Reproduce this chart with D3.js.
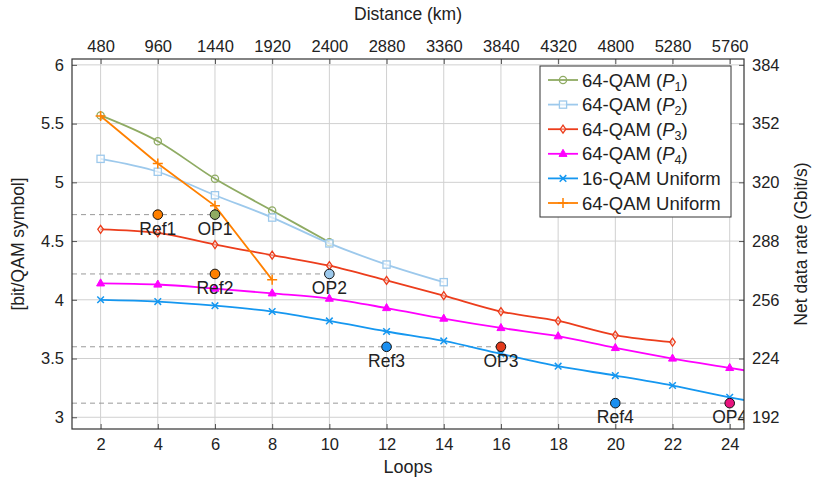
<!DOCTYPE html>
<html>
<head>
<meta charset="utf-8">
<script src="https://cdn.jsdelivr.net/npm/d3@7"></script>
<style>
  body { margin: 0; background: #fff; }
  text { font-family: "Liberation Sans", "DejaVu Sans", sans-serif; fill: #222; }
</style>
</head>
<body>
<svg id="chart" width="814" height="479"></svg>
<script>
// Data.
var loopsP1 = [2, 4, 6, 8, 10];
var p1 = [5.57, 5.35, 5.03, 4.76, 4.49];
var loopsP2 = [2, 4, 6, 8, 10, 12, 14];
var p2 = [5.20, 5.09, 4.89, 4.70, 4.48, 4.30, 4.15];
var loopsP3 = [2, 4, 6, 8, 10, 12, 14, 16, 18, 20, 22];
var p3 = [4.60, 4.57, 4.47, 4.38, 4.29, 4.165, 4.035, 3.90, 3.82, 3.70, 3.64];
var loopsLong = [2, 4, 6, 8, 10, 12, 14, 16, 18, 20, 22, 24, 26];
var p4 = [4.14, 4.13, 4.095, 4.055, 4.01, 3.93, 3.84, 3.76, 3.69, 3.59, 3.50, 3.42, 3.34];
var u16 = [4.00, 3.985, 3.95, 3.90, 3.82, 3.73, 3.65, 3.54, 3.435, 3.355, 3.27, 3.17, 3.08];
var loopsU64 = [2, 4, 6, 8];
var u64 = [5.565, 5.16, 4.80, 4.17];

// Operating points.
var opNames = ["Ref1", "OP1", "Ref2", "OP2", "Ref3", "OP3", "Ref4", "OP4"];
var opLoops = [4, 6, 6, 10, 12, 16, 20, 24];
var opValues = [4.725, 4.725, 4.22, 4.22, 3.60, 3.60, 3.12, 3.12];

// Ticks.
var loopTicks = [2, 4, 6, 8, 10, 12, 14, 16, 18, 20, 22, 24];
var kmPerLoop = 240;
var yTicks = [3, 3.5, 4, 4.5, 5, 5.5, 6];
var rateTicks = [192, 224, 256, 288, 320, 352, 384];
var bitsToGbit = 64;

// Styles.
var C_P1 = "#8fab63", C_P2 = "#9dc9ec", C_P3 = "#ec3d1c", C_P4 = "#ff00ff",
    C_U16 = "#1597f0", C_U64 = "#ff8000";
var opFill = [C_U64, C_P1, C_U64, C_P2, "#1a8ff0", "#e23a1c", "#1a8ff0", "#e8147e"];

var series = [
  {name: "64-QAM (P1)", sub: "1", x: loopsP1, y: p1, color: C_P1, mark: "circle", smooth: true},
  {name: "64-QAM (P2)", sub: "2", x: loopsP2, y: p2, color: C_P2, mark: "square", smooth: true},
  {name: "64-QAM (P3)", sub: "3", x: loopsP3, y: p3, color: C_P3, mark: "diamond", smooth: true},
  {name: "64-QAM (P4)", sub: "4", x: loopsLong, y: p4, color: C_P4, mark: "triangle", smooth: true},
  {name: "16-QAM Uniform", x: loopsLong, y: u16, color: C_U16, mark: "x", smooth: true},
  {name: "64-QAM Uniform", x: loopsU64, y: u64, color: C_U64, mark: "plus", smooth: false}
];

var W = 814, H = 479;
var margin = {left: 72, right: 70, top: 59, bottom: 50};

var svg = d3.select("#chart");

var x = d3.scaleLinear().domain([1, 24.5]).range([margin.left, W - margin.right]);
var y = d3.scaleLinear().domain([2.9, 6.05]).range([H - margin.bottom, margin.top]);
var xTop = d3.scaleLinear().domain([1 * kmPerLoop, 24.5 * kmPerLoop]).range(x.range());
var yRight = d3.scaleLinear().domain([2.9 * bitsToGbit, 6.05 * bitsToGbit]).range(y.range());

var x0 = x.range()[0], x1 = x.range()[1], y0 = y.range()[0], y1 = y.range()[1];

svg.append("defs").append("clipPath").attr("id", "clip")
  .append("rect").attr("x", x0).attr("y", y1).attr("width", x1 - x0).attr("height", y0 - y1);

// Grid.
var grid = svg.append("g");
grid.selectAll("line.v").data(loopTicks).enter().append("line")
  .attr("x1", function(d){ return x(d); }).attr("x2", function(d){ return x(d); })
  .attr("y1", y0).attr("y2", y1)
  .attr("stroke", "#d0d0d0").attr("stroke-width", 1);
grid.selectAll("line.h").data(yTicks).enter().append("line")
  .attr("x1", x0).attr("x2", x1)
  .attr("y1", function(d){ return y(d); }).attr("y2", function(d){ return y(d); })
  .attr("stroke", "#d0d0d0").attr("stroke-width", 1);

// Axes.
function styleAxis(g) {
  g.select(".domain").remove();
  g.selectAll(".tick line").attr("stroke", "#555");
  g.selectAll(".tick text").attr("font-size", 16.5).style("fill", "#222");
}
svg.append("g").attr("transform", "translate(0," + y0 + ")")
  .call(d3.axisBottom(x).tickValues(loopTicks).tickSizeInner(-5).tickSizeOuter(0).tickPadding(9))
  .call(styleAxis);
svg.append("g").attr("transform", "translate(0," + y1 + ")")
  .call(d3.axisTop(xTop).tickValues(loopTicks.map(function(d){ return d * kmPerLoop; }))
        .tickSizeInner(-5).tickSizeOuter(0).tickPadding(7).tickFormat(d3.format("d")))
  .call(styleAxis);
svg.append("g").attr("transform", "translate(" + x0 + ",0)")
  .call(d3.axisLeft(y).tickValues(yTicks).tickSizeInner(-5).tickSizeOuter(0).tickPadding(8)
        .tickFormat(function(d){ return String(d); }))
  .call(styleAxis);
svg.append("g").attr("transform", "translate(" + x1 + ",0)")
  .call(d3.axisRight(yRight).tickValues(rateTicks).tickSizeInner(-5).tickSizeOuter(0).tickPadding(8))
  .call(styleAxis);

// Reference dashed levels and data.
var plot = svg.append("g").attr("clip-path", "url(#clip)");

var opIdx = opNames.map(function(d, i){ return i; });
var opOnly = opIdx.filter(function(i){ return opNames[i].indexOf("OP") === 0; });
plot.selectAll("line.lvl").data(opOnly).enter().append("line")
  .attr("x1", x0).attr("x2", function(i){ return x(opLoops[i]); })
  .attr("y1", function(i){ return y(opValues[i]); }).attr("y2", function(i){ return y(opValues[i]); })
  .attr("stroke", "#999").attr("stroke-width", 1).attr("stroke-dasharray", "5,4");

function drawMark(g, type, cx, cy, color) {
  if (type === "circle") {
    g.append("circle").attr("cx", cx).attr("cy", cy).attr("r", 3.6)
      .attr("fill", "#fff").attr("fill-opacity", 0).attr("stroke", color).attr("stroke-width", 1.3);
  } else if (type === "square") {
    g.append("rect").attr("x", cx - 3.6).attr("y", cy - 3.6).attr("width", 7.2).attr("height", 7.2)
      .attr("fill", "#fff").attr("fill-opacity", 0.6).attr("stroke", color).attr("stroke-width", 1.3);
  } else if (type === "diamond") {
    g.append("path").attr("d", "M" + cx + "," + (cy - 4) + "L" + (cx + 2.8) + "," + cy +
        "L" + cx + "," + (cy + 4) + "L" + (cx - 2.8) + "," + cy + "Z")
      .attr("fill", "#fff").attr("fill-opacity", 0.4).attr("stroke", color).attr("stroke-width", 1.3);
  } else if (type === "triangle") {
    g.append("path").attr("d", "M" + cx + "," + (cy - 4.5) + "L" + (cx + 4) + "," + (cy + 2.6) +
        "L" + (cx - 4) + "," + (cy + 2.6) + "Z")
      .attr("fill", color).attr("stroke", color).attr("stroke-width", 1);
  } else if (type === "x") {
    g.append("path").attr("d", "M" + (cx - 3.3) + "," + (cy - 3.3) + "L" + (cx + 3.3) + "," + (cy + 3.3) +
        "M" + (cx - 3.3) + "," + (cy + 3.3) + "L" + (cx + 3.3) + "," + (cy - 3.3))
      .attr("stroke", color).attr("stroke-width", 1.5).attr("fill", "none");
  } else if (type === "plus") {
    g.append("path").attr("d", "M" + (cx - 5) + "," + cy + "L" + (cx + 5) + "," + cy +
        "M" + cx + "," + (cy - 5) + "L" + cx + "," + (cy + 5))
      .attr("stroke", color).attr("stroke-width", 1.5).attr("fill", "none");
  }
}

series.forEach(function(s) {
  var pts = s.x.map(function(d, i){ return [x(d), y(s.y[i])]; });
  var line = d3.line().curve(s.smooth ? d3.curveMonotoneX : d3.curveLinear);
  plot.append("path").attr("d", line(pts))
    .attr("fill", "none").attr("stroke", s.color).attr("stroke-width", 1.8);
  var mg = plot.append("g");
  pts.forEach(function(p){ drawMark(mg, s.mark, p[0], p[1], s.color); });
});

// Operating points with labels.
plot.selectAll("circle.op").data(opIdx).enter().append("circle")
  .attr("cx", function(i){ return x(opLoops[i]); })
  .attr("cy", function(i){ return y(opValues[i]); })
  .attr("r", 4.8)
  .attr("fill", function(i){ return opFill[i]; })
  .attr("stroke", "#111").attr("stroke-width", 1);
plot.selectAll("text.op").data(opIdx).enter().append("text")
  .attr("x", function(i){ return x(opLoops[i]); })
  .attr("y", function(i){ return y(opValues[i]) + 20; })
  .attr("text-anchor", "middle").attr("font-size", 17.5)
  .text(function(i){ return opNames[i]; });

// Frame.
svg.append("rect").attr("x", x0).attr("y", y1).attr("width", x1 - x0).attr("height", y0 - y1)
  .attr("fill", "none").attr("stroke", "#333").attr("stroke-width", 1.2);

// Legend.
var lg = svg.append("g").attr("transform", "translate(540,66)");
lg.append("rect").attr("width", 191).attr("height", 151)
  .attr("fill", "#fff").attr("stroke", "#333").attr("stroke-width", 1);
series.forEach(function(s, i) {
  var ly = 14 + i * 24.6;
  lg.append("line").attr("x1", 8).attr("x2", 38).attr("y1", ly).attr("y2", ly)
    .attr("stroke", s.color).attr("stroke-width", 1.8);
  drawMark(lg, s.mark, 23, ly, s.color);
  var t = lg.append("text").attr("x", 42).attr("y", ly + 6.5).attr("font-size", 18.5);
  if (s.sub) {
    t.append("tspan").text("64-QAM (");
    t.append("tspan").attr("font-style", "italic").text("P");
    t.append("tspan").attr("font-size", 12.5).attr("dy", 4).text(s.sub);
    t.append("tspan").attr("dy", -4).text(")");
  } else {
    t.text(s.name);
  }
});

// Axis titles.
svg.append("text").attr("x", (x0 + x1) / 2).attr("y", 473).attr("text-anchor", "middle")
  .attr("font-size", 18).text("Loops");
svg.append("text").attr("x", (x0 + x1) / 2).attr("y", 20).attr("text-anchor", "middle")
  .attr("font-size", 17.5).text("Distance (km)");
svg.append("text").attr("transform", "translate(24," + ((y0 + y1) / 2) + ") rotate(-90)")
  .attr("text-anchor", "middle").attr("font-size", 17.5).text("[bit/QAM symbol]");
svg.append("text").attr("transform", "translate(807," + ((y0 + y1) / 2) + ") rotate(-90)")
  .attr("text-anchor", "middle").attr("font-size", 17.5).text("Net data rate (Gbit/s)");
</script>
</body>
</html>
